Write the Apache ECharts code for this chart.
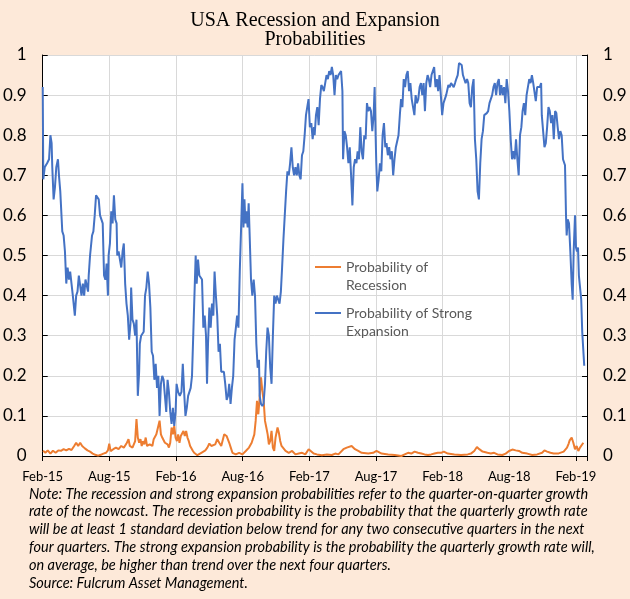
<!DOCTYPE html>
<html><head><meta charset="utf-8">
<script src="https://cdn.jsdelivr.net/npm/echarts@6/dist/echarts.min.js"></script>
<style>html,body{margin:0;padding:0;background:#FDE9D9}#c{width:630px;height:599px}</style>
</head><body><div id="c"></div>
<script>
// x positions are months since Feb-2015
const xTickLabels = ['Feb-15','Aug-15','Feb-16','Aug-16','Feb-17','Aug-17','Feb-18','Aug-18','Feb-19'];
const seriesNames = ['Probability of Recession', 'Probability of Strong Expansion'];
const legendLabels = ['Probability of\nRecession', 'Probability of Strong\nExpansion'];

const expMonths = [0,0.05,0.18,0.39,0.57,0.69,0.80,0.86,0.98,1.10,1.22,1.37,1.46,1.58,1.76,1.88,2.00,2.12,2.24,2.36,2.47,2.59,2.71,2.89,3.01,3.13,3.25,3.37,3.49,3.61,3.73,3.85,3.97,4.08,4.14,4.26,4.38,4.44,4.56,4.68,4.80,4.92,5.04,5.16,5.28,5.40,5.52,5.64,5.75,5.87,5.93,6.05,6.17,6.29,6.41,6.53,6.65,6.71,6.83,6.95,7.07,7.19,7.30,7.42,7.54,7.66,7.78,7.90,7.96,8.08,8.20,8.32,8.44,8.56,8.68,8.74,8.86,8.97,9.09,9.21,9.33,9.45,9.57,9.69,9.81,9.93,10.05,10.17,10.29,10.41,10.52,10.64,10.76,10.88,11.00,11.12,11.24,11.36,11.48,11.60,11.72,11.84,11.96,
12.05,12.19,12.34,12.49,12.61,12.73,12.85,12.97,13.09,13.21,13.32,13.44,13.56,13.68,13.77,13.86,13.98,14.10,14.22,14.34,14.46,14.58,14.70,14.79,14.88,15.00,15.12,15.24,15.36,15.47,15.59,15.71,15.83,15.95,16.07,16.19,16.31,16.43,16.56,16.68,16.79,16.91,17.03,17.15,17.27,17.39,17.50,17.62,17.74,17.86,17.98,18.07,18.16,18.25,18.33,18.45,18.54,18.63,18.75,18.87,18.99,19.11,19.23,19.35,19.47,19.53,19.65,19.77,19.88,20.01,20.12,20.24,20.36,20.48,20.60,20.72,20.84,20.96,21.08,21.20,21.32,21.44,21.55,21.67,21.79,21.91,22.03,22.15,22.27,22.39,22.51,22.63,22.75,22.87,22.99,23.10,23.22,23.34,23.46,23.58,23.70,23.82,23.93,24.05,24.18,24.30,24.42,
24.48,24.60,24.72,24.84,24.96,25.08,25.19,25.31,25.43,25.55,25.67,25.79,25.91,26.03,26.15,26.27,26.39,26.51,26.63,26.74,26.86,26.98,27.04,27.16,27.28,27.40,27.52,27.64,27.76,27.88,28.00,28.12,28.24,28.35,28.47,28.59,28.71,28.83,28.95,29.07,29.19,29.31,29.43,29.55,29.67,29.79,29.88,29.97,30.03,30.12,30.24,30.36,30.48,30.60,30.72,30.84,30.95,31.07,31.19,31.31,31.43,31.55,31.67,31.79,31.91,32.03,32.15,32.26,32.38,32.50,32.62,32.74,32.86,32.98,33.10,33.22,33.34,33.46,33.57,33.69,33.81,33.93,34.05,34.17,34.29,34.41,34.53,34.65,34.76,34.88,35.00,35.12,35.24,35.36,35.48,35.60,35.72,35.84,35.96,36.08,36.20,36.32,
36.52,36.64,36.76,36.88,37.00,37.12,37.23,37.36,37.48,37.59,37.72,37.83,37.95,38.07,38.20,38.31,38.43,38.55,38.67,38.79,38.91,39.03,39.15,39.27,39.39,39.51,39.63,39.75,39.87,39.98,40.10,40.22,40.34,40.46,40.58,40.70,40.82,40.94,41.06,41.17,41.29,41.41,41.53,41.65,41.77,41.89,42.01,42.13,42.25,42.37,42.49,42.61,42.73,42.85,42.97,43.09,43.20,43.32,43.44,43.56,43.68,43.80,43.92,44.04,44.16,44.27,44.39,44.51,44.63,44.75,44.87,44.93,45.05,45.17,45.29,45.41,45.53,45.65,45.77,45.89,46.01,46.13,46.24,46.36,46.48,46.60,46.72,46.84,46.96,47.02,47.11,47.17,47.26,47.38,47.50,47.62,47.71,47.80,47.92,48.01,48.10,48.19,48.27,48.39,48.48,48.57,48.69,48.75];
const expProb = [0.92,0.69,0.72,0.73,0.74,0.80,0.78,0.72,0.64,0.67,0.72,0.74,0.70,0.66,0.56,0.55,0.51,0.43,0.47,0.44,0.46,0.43,0.40,0.35,0.40,0.41,0.45,0.45,0.40,0.43,0.40,0.44,0.44,0.41,0.45,0.50,0.50,0.55,0.56,0.60,0.65,0.65,0.64,0.60,0.60,0.58,0.45,0.44,0.48,0.40,0.50,0.53,0.61,0.58,0.65,0.59,0.58,0.50,0.51,0.51,0.47,0.51,0.53,0.43,0.38,0.35,0.29,0.33,0.42,0.34,0.33,0.30,0.34,0.15,0.21,0.28,0.30,0.30,0.31,0.40,0.42,0.46,0.43,0.37,0.26,0.25,0.19,0.23,0.17,0.20,0.10,0.18,0.20,0.19,0.15,0.11,0.19,0.16,0.11,0.08,0.12,0.075,0.11,
0.18,0.16,0.15,0.16,0.23,0.16,0.10,0.12,0.15,0.15,0.17,0.20,0.31,0.42,0.50,0.43,0.49,0.45,0.45,0.44,0.32,0.35,0.30,0.18,0.28,0.37,0.32,0.38,0.35,0.46,0.40,0.35,0.26,0.28,0.21,0.21,0.21,0.18,0.14,0.15,0.18,0.13,0.17,0.20,0.29,0.32,0.35,0.32,0.46,0.57,0.68,0.57,0.64,0.58,0.61,0.57,0.63,0.55,0.44,0.40,0.44,0.40,0.28,0.22,0.24,0.15,0.13,0.125,0.13,0.18,0.26,0.32,0.30,0.22,0.18,0.30,0.40,0.38,0.40,0.39,0.38,0.41,0.47,0.54,0.60,0.66,0.71,0.70,0.73,0.77,0.72,0.70,0.72,0.70,0.73,0.70,0.69,0.75,0.76,0.80,0.85,0.85,0.89,0.82,0.83,0.79,0.82,
0.80,0.85,0.87,0.825,0.89,0.925,0.92,0.91,0.91,0.95,0.94,0.96,0.95,0.97,0.95,0.90,0.95,0.94,0.95,0.95,0.96,0.91,0.74,0.81,0.80,0.77,0.73,0.77,0.70,0.625,0.72,0.74,0.73,0.76,0.74,0.82,0.76,0.74,0.80,0.79,0.88,0.86,0.87,0.86,0.81,0.85,0.92,0.80,0.73,0.66,0.69,0.73,0.71,0.80,0.83,0.77,0.78,0.75,0.77,0.74,0.76,0.70,0.74,0.77,0.77,0.80,0.85,0.89,0.87,0.94,0.92,0.95,0.96,0.91,0.93,0.89,0.89,0.85,0.90,0.88,0.89,0.92,0.93,0.90,0.93,0.86,0.93,0.95,0.94,0.92,0.95,0.95,0.97,0.92,0.94,0.91,0.95,0.90,0.85,0.88,0.88,0.90,
0.925,0.92,0.93,0.93,0.92,0.93,0.94,0.95,0.98,0.98,0.975,0.95,0.95,0.93,0.94,0.93,0.88,0.87,0.92,0.94,0.79,0.74,0.66,0.64,0.73,0.79,0.81,0.85,0.85,0.855,0.86,0.88,0.88,0.90,0.92,0.93,0.90,0.93,0.94,0.90,0.925,0.90,0.92,0.88,0.94,0.91,0.86,0.79,0.74,0.76,0.74,0.79,0.74,0.70,0.80,0.82,0.86,0.88,0.85,0.90,0.90,0.94,0.93,0.95,0.93,0.93,0.885,0.92,0.92,0.92,0.93,0.85,0.81,0.77,0.78,0.82,0.87,0.86,0.83,0.85,0.79,0.86,0.855,0.82,0.79,0.81,0.80,0.74,0.74,0.725,0.60,0.55,0.59,0.58,0.51,0.43,0.39,0.51,0.60,0.52,0.51,0.52,0.45,0.45,0.39,0.31,0.31,0.225];

const recMonths = [0.03,0.24,0.45,0.69,0.92,1.16,1.40,1.64,1.88,2.12,2.36,2.59,2.83,3.01,3.19,3.37,3.55,3.79,4.03,4.26,4.50,4.74,4.98,5.22,5.46,5.69,5.87,5.99,6.11,6.35,6.59,6.83,7.07,7.30,7.54,7.72,7.84,8.08,8.32,8.44,8.56,8.68,8.80,8.91,9.03,9.15,9.27,9.39,9.51,9.63,9.75,9.87,9.99,10.11,10.23,10.41,10.52,10.64,10.76,10.88,11.00,11.12,11.24,11.36,11.48,11.60,11.72,11.84,11.96,12.08,12.19,12.31,12.43,12.55,12.67,12.79,12.91,13.03,13.15,13.27,13.39,13.51,13.63,13.74,13.92,14.10,14.28,14.46,14.64,14.82,15.00,15.18,15.35,15.53,15.71,15.89,16.07,16.19,16.34,16.55,16.67,16.79,16.93,17.08,17.38,17.68,17.83,17.98,18.28,18.57,18.81,18.93,19.05,19.17,19.29,19.41,19.53,19.65,19.77,19.89,20.01,20.13,20.25,20.36,20.48,20.60,20.72,20.84,20.96,21.14,21.26,21.38,21.50,21.62,21.86,22.15,22.45,22.75,23.05,23.35,23.64,23.94,24.09,24.39,24.69,25.13,25.58,26.03,26.33,26.62,27.07,27.37,27.81,28.11,28.41,28.71,29.31,29.75,30.05,30.50,31.10,31.69,32.29,32.59,32.89,33.18,33.48,33.78,34.08,34.38,34.68,34.97,35.27,35.57,35.87,36.11,36.47,37.06,37.66,38.26,38.55,38.85,39.09,39.30,39.60,40.04,40.34,40.64,40.94,41.38,41.68,41.98,42.28,42.58,42.88,43.17,43.62,44.07,44.51,44.96,45.17,45.41,45.71,46.00,46.45,46.90,47.20,47.35,47.44,47.62,47.77,47.92,48.07,48.22,48.37,48.52,48.67];
const recProb = [0.013,0.008,0.014,0.006,0.013,0.008,0.014,0.013,0.017,0.014,0.018,0.015,0.025,0.033,0.025,0.033,0.025,0.019,0.014,0.011,0.006,0.003,0.001,0.003,0.006,0.008,0.014,0.031,0.012,0.017,0.021,0.017,0.025,0.021,0.031,0.042,0.025,0.021,0.037,0.092,0.046,0.033,0.042,0.025,0.037,0.029,0.046,0.025,0.021,0.029,0.033,0.025,0.042,0.046,0.054,0.058,0.088,0.054,0.046,0.042,0.033,0.037,0.029,0.021,0.033,0.071,0.054,0.075,0.046,0.037,0.054,0.033,0.050,0.054,0.0625,0.050,0.0625,0.046,0.037,0.025,0.021,0.013,0.008,0.004,0.002,0.004,0.008,0.011,0.014,0.021,0.031,0.025,0.021,0.029,0.042,0.033,0.025,0.029,0.054,0.050,0.046,0.033,0.021,0.008,0.004,0.008,0.0125,0.004,0.0125,0.021,0.033,0.029,0.054,0.0875,0.1375,0.104,0.146,0.196,0.163,0.1375,0.0875,0.071,0.054,0.029,0.0375,0.0625,0.021,0.0125,0.046,0.071,0.058,0.0375,0.025,0.021,0.0125,0.008,0.0125,0.004,0.006,0.008,0.004,0.017,0.0125,0.006,0.004,0.002,0.004,0.0025,0.006,0.004,0.017,0.021,0.025,0.017,0.0125,0.008,0.006,0.008,0.0125,0.006,0.004,0.0025,0.0,0.004,0.008,0.006,0.011,0.008,0.006,0.004,0.0025,0.004,0.006,0.008,0.008,0.011,0.006,0.004,0.0025,0.004,0.006,0.0125,0.0225,0.017,0.011,0.008,0.006,0.008,0.004,0.0025,0.006,0.0125,0.016,0.014,0.0125,0.008,0.006,0.0025,0.004,0.008,0.014,0.011,0.008,0.006,0.0065,0.011,0.021,0.031,0.039,0.046,0.033,0.017,0.025,0.0125,0.021,0.017,0.033];

const noteLines = [
  'Note: The recession and strong expansion probabilities refer to the quarter-on-quarter growth',
  'rate of the nowcast. The recession probability is the probability that the quarterly growth rate',
  'will be at least 1 standard deviation below trend for any two consecutive quarters in the next',
  'four quarters. The strong expansion probability is the probability the quarterly growth rate will,',
  'on average, be higher than trend over the next four quarters.',
  'Source: Fulcrum Asset Management.'
];

const zip = (xs, ys) => xs.map((x, i) => [x, ys[i]]);
const chart = echarts.init(document.getElementById('c'));
const yAxisBase = (pos, grid) => ({
  type: 'value', position: pos, min: 0, max: 1, interval: 0.1,
  axisLine: { show: true, lineStyle: { color: '#000', width: 1 } },
  axisTick: { show: true, inside: true, length: 5, lineStyle: { color: '#000' } },
  splitLine: { show: grid, lineStyle: { color: '#D9D9D9', width: 1 } },
  axisLabel: { fontFamily: 'Lato', fontSize: 17, color: '#000', margin: 16 }
});
const legendColors = ['#ED7D31', '#4472C4'];
const legendBase = (i, top) => ({
  data: [{ name: seriesNames[i], icon: 'rect', itemStyle: { color: legendColors[i] } }],
  orient: 'vertical', left: 315, top: top, padding: 0,
  itemWidth: 26, itemHeight: 2,
  formatter: () => '\n' + legendLabels[i],
  textStyle: { fontFamily: 'Lato', fontSize: 14, color: '#595959', lineHeight: 18 }
});
chart.setOption({
  backgroundColor: '#FDE9D9',
  animation: false,
  title: [
    { text: 'USA Recession and Expansion\nProbabilities', left: 'center', top: 6,
      textStyle: { fontFamily: 'Liberation Serif', fontSize: 20, fontWeight: 'normal', color: '#000', lineHeight: 19 } },
    { text: noteLines.join('\n'), left: 29, top: 485, padding: 0,
      textStyle: { fontFamily: 'Lato', fontStyle: 'italic', fontSize: 14.5, fontWeight: 'normal', color: '#000', lineHeight: 17.8 } }
  ],
  grid: { left: 39, right: 43, top: 55, bottom: 143, show: true, backgroundColor: '#fff', borderWidth: 0, containLabel: false },
  legend: [legendBase(0, 240), legendBase(1, 286)],
  xAxis: {
    type: 'value', min: 0, max: 49, interval: 6,
    axisLine: { show: true, onZero: false, lineStyle: { color: '#000', width: 1 } },
    axisTick: { show: true, length: 5, lineStyle: { color: '#000' } },
    splitLine: { show: true, lineStyle: { color: '#D9D9D9', width: 1 } },
    axisLabel: { fontFamily: 'Lato', fontSize: 13, color: '#000', margin: 14,
      formatter: v => (v % 6 === 0 && v / 6 < xTickLabels.length) ? xTickLabels[v / 6] : '' }
  },
  yAxis: [yAxisBase('left', true), yAxisBase('right', false)],
  series: [
    { name: seriesNames[0], type: 'line', data: zip(recMonths, recProb), symbol: 'none', showSymbol: false,
      lineStyle: { color: '#ED7D31', width: 2 }, itemStyle: { color: '#ED7D31' } },
    { name: seriesNames[1], type: 'line', data: zip(expMonths, expProb), symbol: 'none', showSymbol: false,
      lineStyle: { color: '#4472C4', width: 2 }, itemStyle: { color: '#4472C4' } }
  ]
});
</script></body></html>
